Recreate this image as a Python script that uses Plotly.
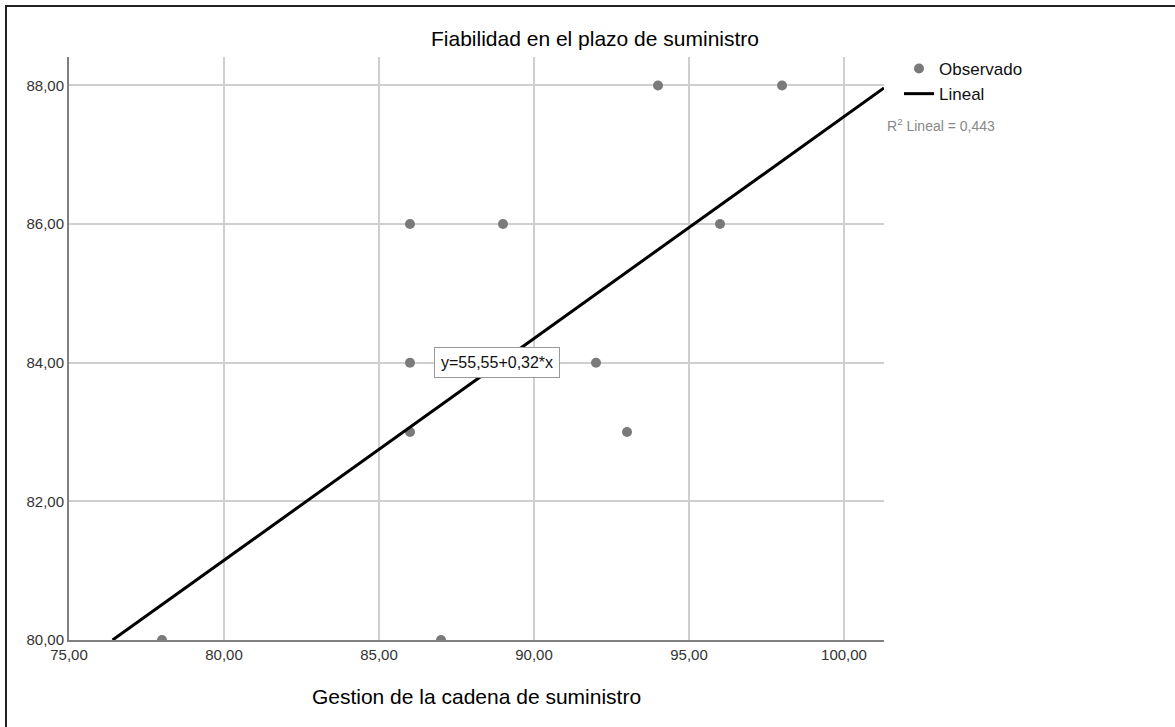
import plotly.graph_objects as go

# Data
gestion = [78, 87, 86, 86, 86, 89, 92, 93, 94, 96, 98]
fiabilidad = [80, 80, 83, 84, 86, 86, 84, 83, 88, 86, 88]

intercept = 55.55
slope = 0.32
r2_text = "R<sup>2</sup> Lineal = 0,443"
eq_text = "y=55,55+0,32*x"

x_ticks = [75, 80, 85, 90, 95, 100]
y_ticks = [80, 82, 84, 86, 88]
X_MIN, X_MAX = 75, 101.29
Y_MIN, Y_MAX = 80, 88.41

x_start = (Y_MIN - intercept) / slope
line_x = [x_start, X_MAX]
line_y = [intercept + slope * v for v in line_x]

FONT = "Liberation Sans, Arial, sans-serif"

fig = go.Figure()
fig.add_trace(go.Scatter(
    x=gestion, y=fiabilidad, mode="markers", name="Observado",
    marker=dict(color="#7a7a7a", size=10, line=dict(width=0)),
))
fig.add_trace(go.Scatter(
    x=line_x, y=line_y, mode="lines", name="Lineal",
    line=dict(color="black", width=3),
))

L, R, T, B = 69, 291, 57, 87
W, H = 1175, 727
pw, ph = W - L - R, H - T - B

fig.update_layout(
    width=W, height=H,
    margin=dict(l=L, r=R, t=T, b=B, pad=0),
    paper_bgcolor="white", plot_bgcolor="white",
    separators=",.",
    font=dict(family=FONT, color="#222", size=14),
    title=dict(text="Fiabilidad en el plazo de suministro",
               x=595 / W, xanchor="center", y=1 - 39 / H, yanchor="middle",
               font=dict(size=21, color="#000", family=FONT)),
    xaxis=dict(range=[X_MIN, X_MAX], tickvals=x_ticks, tickformat=".2f",
               showgrid=True, gridcolor="#cfcfcf", gridwidth=1.5,
               showline=True, linecolor="#808080", linewidth=2,
               zeroline=False, ticks="", ticklen=0,
               tickfont=dict(size=15, color="#333"),
               title=dict(text="Gestion de la cadena de suministro",
                          font=dict(size=21, color="#000"), standoff=27)),
    yaxis=dict(range=[Y_MIN, Y_MAX], tickvals=y_ticks, tickformat=".2f",
               showgrid=True, gridcolor="#cfcfcf", gridwidth=1.5,
               showline=True, linecolor="#808080", linewidth=2,
               zeroline=False, ticks="", ticklen=0,
               tickfont=dict(size=15, color="#333")),
    legend=dict(x=(899 - L) / pw, y=1 + (57 - 51) / ph, xanchor="left", yanchor="top",
                bgcolor="rgba(0,0,0,0)", font=dict(size=17, color="#111"),
                tracegroupgap=0, itemwidth=30),
    showlegend=True,
)

# outer frame
fig.add_shape(type="rect", xref="paper", yref="paper",
              x0=(6 - L) / pw, x1=(1190 - L) / pw,
              y0=1 - (740 - T) / ph, y1=1 + (T - 6) / ph,
              line=dict(color="#222", width=2), fillcolor="rgba(0,0,0,0)", layer="below")

# R squared annotation
fig.add_annotation(xref="paper", yref="paper", x=(885 - L) / pw, y=1 - (125 - T) / ph,
                   xanchor="left", yanchor="middle", text=r2_text, showarrow=False,
                   font=dict(size=14, color="#888"))

# equation box
fig.add_annotation(x=88.8, y=84, text=eq_text, showarrow=False,
                   xanchor="center", yanchor="middle",
                   font=dict(size=16, color="#111"),
                   bgcolor="white", bordercolor="#999", borderwidth=1, borderpad=6)

fig.write_html("out.html", config={"displayModeBar": False},
               post_script="document.body.style.margin='0';")
